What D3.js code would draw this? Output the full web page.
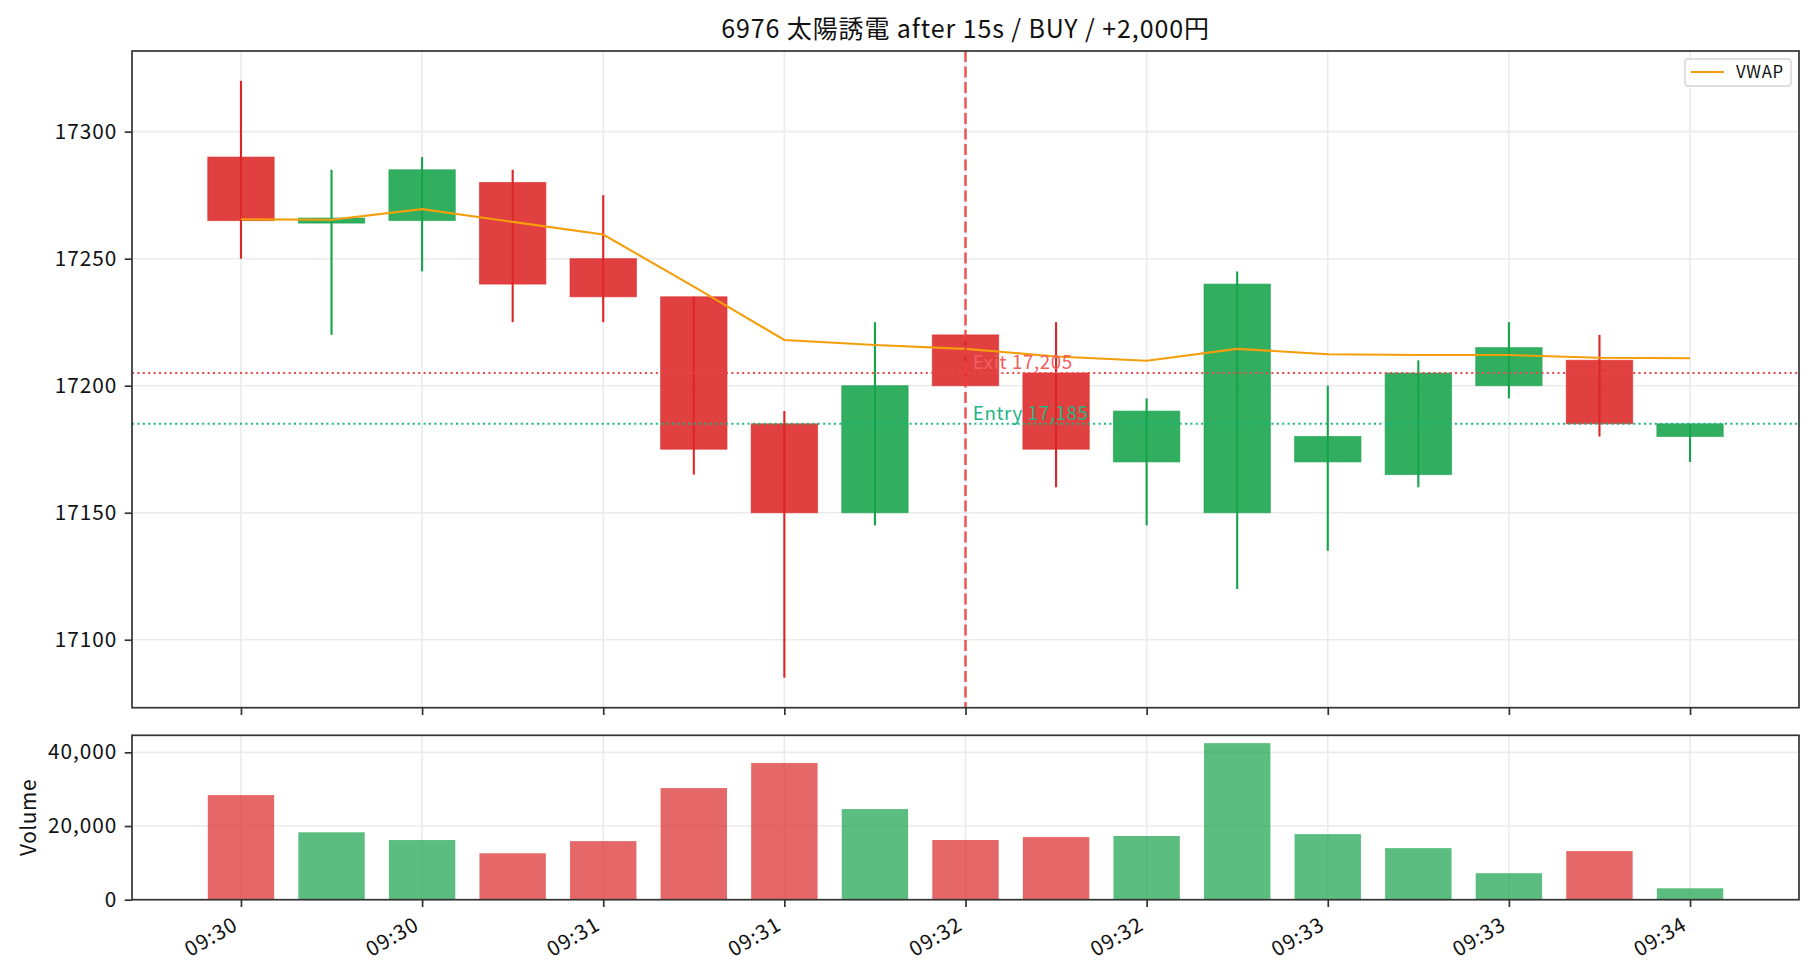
<!DOCTYPE html>
<html>
<head>
<meta charset="utf-8">
<script src="https://cdn.jsdelivr.net/npm/d3@7"></script>
<style>
  html, body { margin: 0; padding: 0; background: #fff; }
  svg { display: block; font-family: "Noto Sans CJK JP", "Noto Sans", sans-serif; }
</style>
</head>
<body>
<script>
'use strict';
// 15s candles, 09:30:00 .. 09:34:00
const tickIdx = [0, 2, 4, 6, 8, 10, 12, 14, 16];
const tickLabels = ["09:30", "09:30", "09:31", "09:31", "09:32", "09:32", "09:33", "09:33", "09:34"];
const opens  = [17290, 17264, 17265, 17280, 17250, 17235, 17185, 17150, 17220, 17205, 17170, 17150, 17170, 17165, 17200, 17210, 17180];
const highs  = [17320, 17285, 17290, 17285, 17275, 17235, 17190, 17225, 17220, 17225, 17195, 17245, 17200, 17210, 17225, 17220, 17185];
const lows   = [17250, 17220, 17245, 17225, 17225, 17165, 17085, 17145, 17200, 17160, 17145, 17120, 17135, 17160, 17195, 17180, 17170];
const closes = [17265, 17266, 17285, 17240, 17235, 17175, 17150, 17200, 17200, 17175, 17190, 17240, 17180, 17205, 17215, 17185, 17185];
const volumes = [28400, 18300, 16200, 12600, 15900, 30300, 37100, 24600, 16200, 17000, 17300, 42500, 17800, 14000, 7200, 13200, 3100];
const vwap = [17265.5, 17265.3, 17269.5, 17264.5, 17259.5, 17239, 17218, 17216, 17214.5, 17211.5, 17209.8, 17214.5, 17212.4, 17212.1, 17212.1, 17211, 17210.8];
const priceTicks = [17100, 17150, 17200, 17250, 17300];
const volTicks = [0, 20000, 40000];
const entryIdx = 8;
const entryPrice = 17185;
const exitPrice = 17205;
const titleText = "6976 太陽誘電 after 15s / BUY / +2,000円";

(function () {
  const W = 1820, H = 980;
  const left = 132, right = 1799;
  const main = { top: 51, bottom: 707.7 };
  const vol = { top: 735.3, bottom: 899.7 };
  const barW = 0.733;
  const UP = "#16a34a", DOWN = "#dc2626";
  const axisColor = "#333";
  const fs = 20.8;

  let svg = "";

  window.onload = function () {
    svg = d3.select('body').append('svg')
      .attr('width', W)
      .attr('height', H);

    let n = opens.length;
    let xLo = -barW / 2, xHi = (n - 1) + barW / 2;
    let xPad = (xHi - xLo) * 0.05;
    let xScale = d3.scaleLinear().domain([xLo - xPad, xHi + xPad]).range([left, right]);

    let pMin = d3.min(lows), pMax = d3.max(highs);
    let pPad = (pMax - pMin) * 0.05;
    let yScale = d3.scaleLinear().domain([pMin - pPad, pMax + pPad]).range([main.bottom, main.top]);
    let vScale = d3.scaleLinear().domain([0, d3.max(volumes) * 1.05]).range([vol.bottom, vol.top]);

    drawGrid(xScale, yScale, main, priceTicks);
    drawGrid(xScale, vScale, vol, volTicks);
    drawCandles(xScale, yScale);
    drawLevels(xScale, yScale);
    drawVolume(xScale, vScale);
    drawFrame(xScale, yScale, main, priceTicks, d3.format("d"), false);
    drawFrame(xScale, vScale, vol, volTicks, d3.format(","), true);
    drawLegend();

    svg.append('text')
      .attr('x', (left + right) / 2)
      .attr('y', 38)
      .attr('text-anchor', 'middle')
      .style('font-size', '25px')
      .style('letter-spacing', '0.9px')
      .style('fill', '#111')
      .text(titleText);

    svg.append('text')
      .attr('transform', 'translate(36,' + ((vol.top + vol.bottom) / 2) + ')rotate(-90)')
      .attr('text-anchor', 'middle')
      .style('font-size', fs + 'px')
      .style('letter-spacing', '0.6px')
      .style('fill', '#111')
      .text('Volume');
  }

  function drawGrid(xScale, yScale, box, yTicks) {
    let g = svg.append('g').attr('stroke', '#ebebeb').attr('stroke-width', 1.6);
    g.selectAll('.vx').data(tickIdx).enter().append('line')
      .attr('x1', (d) => xScale(d)).attr('x2', (d) => xScale(d))
      .attr('y1', box.top).attr('y2', box.bottom);
    g.selectAll('.hy').data(yTicks).enter().append('line')
      .attr('x1', left).attr('x2', right)
      .attr('y1', (d) => yScale(d)).attr('y2', (d) => yScale(d));
  }

  function drawCandles(xScale, yScale) {
    let idx = d3.range(opens.length);
    let colorOf = (i) => closes[i] >= opens[i] ? UP : DOWN;
    let px = xScale(1) - xScale(0);

    svg.append('g').selectAll('line').data(idx).enter().append('line')
      .attr('x1', (i) => xScale(i)).attr('x2', (i) => xScale(i))
      .attr('y1', (i) => yScale(highs[i])).attr('y2', (i) => yScale(lows[i]))
      .attr('stroke', colorOf)
      .attr('stroke-width', 2.1);

    svg.append('g').selectAll('rect').data(idx).enter().append('rect')
      .attr('x', (i) => xScale(i - barW / 2))
      .attr('width', barW * px)
      .attr('y', (i) => yScale(Math.max(opens[i], closes[i])))
      .attr('height', (i) => Math.max(1, Math.abs(yScale(opens[i]) - yScale(closes[i]))))
      .attr('fill', colorOf)
      .attr('fill-opacity', 0.88)
      .attr('stroke', colorOf)
      .attr('stroke-opacity', 0.6)
      .attr('stroke-width', 1);

    let line = d3.line()
      .x((d, i) => xScale(i))
      .y((d) => yScale(d));
    svg.append('path')
      .datum(vwap)
      .attr('fill', 'none')
      .attr('stroke', '#f59e0b')
      .attr('stroke-width', 2.1)
      .attr('d', line);
  }

  function drawLevels(xScale, yScale) {
    let levels = [
      { v: exitPrice, c: '#ef4444', t: '#f26060', label: 'Exit ' + d3.format(',')(exitPrice) },
      { v: entryPrice, c: '#10b981', t: '#22b585', label: 'Entry ' + d3.format(',')(entryPrice) }
    ];
    levels.forEach((lv) => {
      svg.append('line')
        .attr('x1', left).attr('x2', right)
        .attr('y1', yScale(lv.v)).attr('y2', yScale(lv.v))
        .attr('stroke', lv.c)
        .attr('stroke-width', 2)
        .attr('stroke-dasharray', '2,3.4');
    });
    svg.append('line')
      .attr('x1', xScale(entryIdx)).attr('x2', xScale(entryIdx))
      .attr('y1', main.top).attr('y2', main.bottom)
      .attr('stroke', '#ef4444')
      .attr('stroke-opacity', 0.9)
      .attr('stroke-width', 2.5)
      .attr('stroke-dasharray', '11,4.5');
    levels.forEach((lv) => {
      svg.append('text')
        .attr('x', xScale(entryIdx + 0.08))
        .attr('y', yScale(lv.v) - 4)
        .style('font-size', '18.75px')
        .style('letter-spacing', '0.6px')
        .style('fill', lv.t)
        .text(lv.label);
    });
  }

  function drawVolume(xScale, vScale) {
    let px = xScale(1) - xScale(0);
    svg.append('g').selectAll('rect').data(volumes).enter().append('rect')
      .attr('x', (d, i) => xScale(i - barW / 2))
      .attr('width', barW * px)
      .attr('y', (d) => vScale(d))
      .attr('height', (d) => vScale(0) - vScale(d))
      .attr('fill', (d, i) => closes[i] >= opens[i] ? UP : DOWN)
      .attr('fill-opacity', 0.7);
  }

  function drawFrame(xScale, yScale, box, yTicks, fmt, withLabels) {
    let xAxis = d3.axisBottom(xScale).tickValues(tickIdx).tickSize(7.3).tickPadding(7.3)
      .tickFormat((d, i) => tickLabels[i]);
    let gx = svg.append('g')
      .attr('transform', 'translate(0,' + box.bottom + ')')
      .call(xAxis);
    gx.select('.domain').remove();
    gx.selectAll('.tick line').attr('stroke', axisColor).attr('stroke-width', 1.7);
    if (withLabels) {
      let a = fs * 0.8, dsc = fs * 0.2;
      gx.selectAll('.tick text')
        .attr('y', null).attr('dy', null)
        .attr('text-anchor', 'end')
        .attr('transform', 'translate(' + (-0.5 * dsc) + ',' + (14.6 + 0.866 * a) + ')rotate(-30)')
        .style('font-size', fs + 'px')
        .style('letter-spacing', '1px')
        .style('font-family', '"Noto Sans CJK JP", sans-serif')
        .style('fill', '#111');
    } else {
      gx.selectAll('.tick text').remove();
    }

    let yAxis = d3.axisLeft(yScale).tickValues(yTicks).tickSize(7.3).tickPadding(7.3).tickFormat(fmt);
    let gy = svg.append('g')
      .attr('transform', 'translate(' + left + ',0)')
      .call(yAxis);
    gy.select('.domain').remove();
    gy.selectAll('.tick line').attr('stroke', axisColor).attr('stroke-width', 1.7);
    gy.selectAll('.tick text')
      .style('font-size', fs + 'px')
      .style('letter-spacing', '1px')
      .style('font-family', '"Noto Sans CJK JP", sans-serif')
      .style('fill', '#111');

    svg.append('rect')
      .attr('x', left).attr('y', box.top)
      .attr('width', right - left).attr('height', box.bottom - box.top)
      .attr('fill', 'none')
      .attr('stroke', axisColor)
      .attr('stroke-width', 1.7);
  }

  function drawLegend() {
    let g = svg.append('g');
    g.append('rect')
      .attr('x', right - 114).attr('y', main.top + 8)
      .attr('width', 106).attr('height', 27)
      .attr('rx', 3)
      .attr('fill', '#fff').attr('fill-opacity', 0.8)
      .attr('stroke', '#d5d5d5').attr('stroke-width', 1.4);
    g.append('line')
      .attr('x1', right - 108).attr('x2', right - 75)
      .attr('y1', main.top + 21).attr('y2', main.top + 21)
      .attr('stroke', '#f59e0b').attr('stroke-width', 2.1);
    g.append('text')
      .attr('x', right - 63).attr('y', main.top + 27)
      .style('font-size', '16.7px')
      .style('letter-spacing', '0.7px')
      .style('fill', '#111')
      .text('VWAP');
  }
})();
</script>
</body>
</html>
